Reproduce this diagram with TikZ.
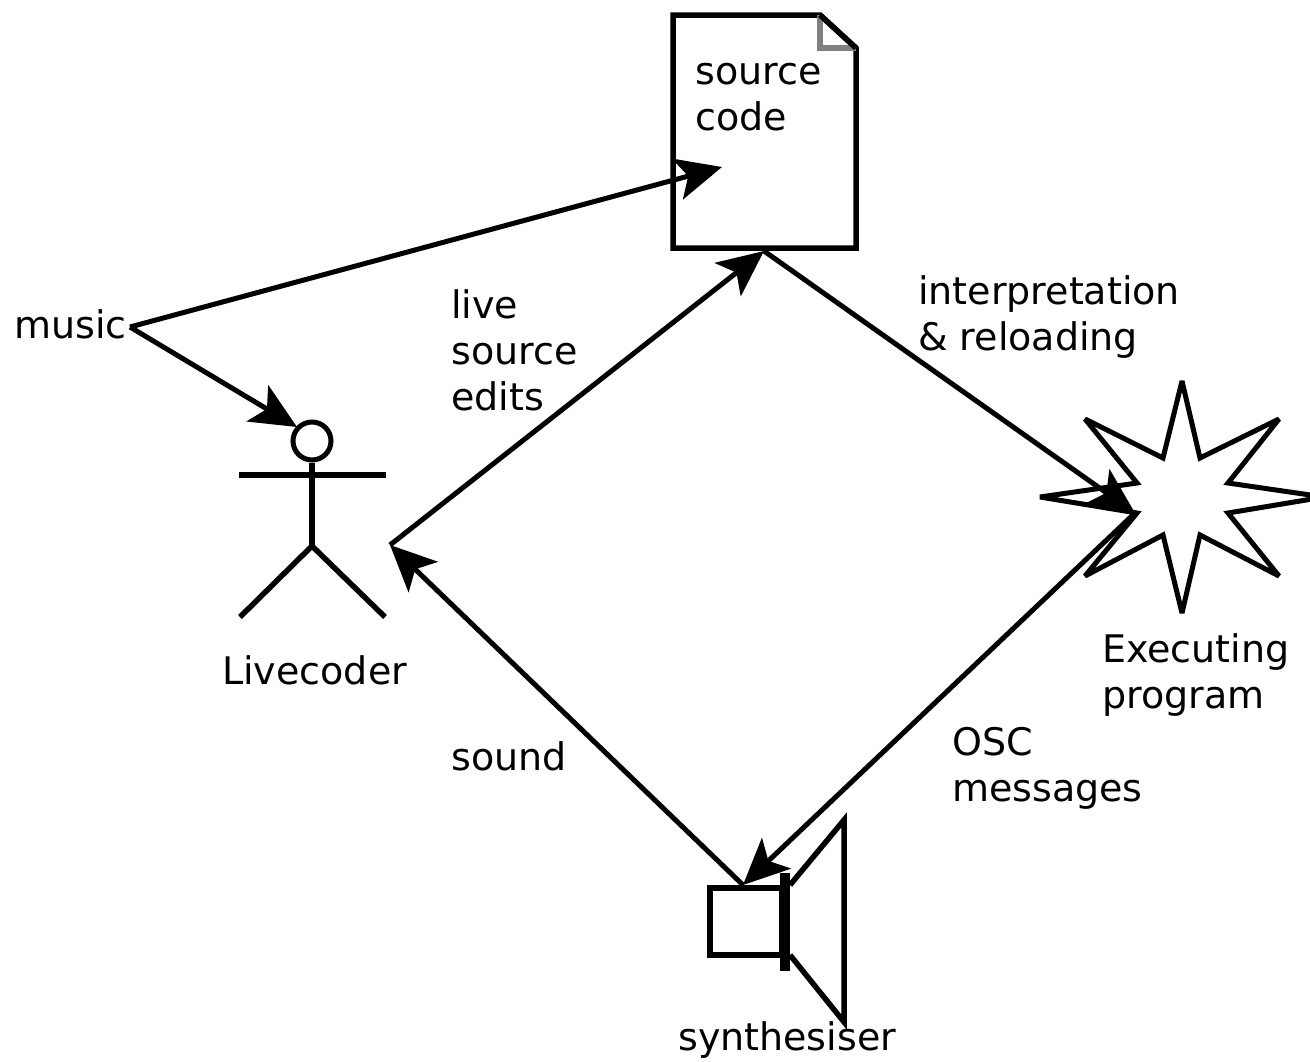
\documentclass[tikz,border=0pt]{standalone}
\usepackage{fontspec}
\setmainfont{DejaVu Sans}
\usetikzlibrary{arrows.meta}
\tikzstyle{caption} = [inner sep=0pt, anchor=north west, align=left, font=\fontsize{38}{46}\selectfont]
\tikzstyle{outline} = [line width=5.5pt, draw=black]
\tikzstyle{arrow} = [line width=5pt,-{Stealth[length=46pt,width=42pt,inset=11pt]}]

\begin{document}
\begin{tikzpicture}[x=1pt,y=-1pt]
\useasboundingbox (0,0) rectangle (1310,1061);

% source document
\draw [outline] (673,15) -- (820,15) -- (856,48) -- (856,248) -- (673,248) -- cycle;
\draw [outline, draw=black!50] (820,15) -- (820,48) -- (856,48);
\draw [outline] (820,15) -- (856,48);
\node (sourcecode) [caption] at (695,63) {source\\code};

% livecoder
\node (head) [outline, circle, line width=5pt, minimum size=38pt, inner sep=0pt] at (312,441) {};
\coordinate (hip) at (312,546);
\coordinate (handleft) at (239,475);
\coordinate (handright) at (386,475);
\coordinate (footleft) at (240,617);
\coordinate (footright) at (385,617);
\draw [outline] (head) -- (hip);
\draw [outline] (handleft) -- (handright);
\draw [outline] (footleft) -- (hip) -- (footright);
\node (livecoder) [caption] at (222,655) {Livecoder};

% executing program
\draw [outline, line width=5pt, miter limit=4] (1182,381) -- (1200,458) -- (1279,419) -- (1228,483) -- (1324,497) -- (1228,513) -- (1279,576) -- (1200,535) -- (1182,613) -- (1163,535) -- (1085,576) -- (1137,513) -- (1040,497) -- (1137,483) -- (1085,419) -- (1163,458) -- cycle;
\node (program) [caption] at (1102,633) {Executing\\program};

% synthesiser
\draw [outline] (790,885) -- (844,820) -- (844,1022) -- (790,955);
\draw [outline, fill=white] (710,888) rectangle (782,955);
\draw [outline, line width=10pt] (785,873) -- (785,971);
\node (synthesiser) [caption] at (678,1021) {synthesiser};

\node (music) [caption] at (14,309) {music};
\node (edits) [caption] at (451,289) {live\\source\\edits};
\node (interp) [caption] at (918,275) {interpretation\\\& reloading};
\node (sound) [caption] at (451,741) {sound};
\node (osc) [caption] at (952,727) {OSC\\messages};

\coordinate (musicout) at (130,327);
\coordinate (sourcein) at (722,167);
\coordinate (headin) at (297,427);
\coordinate (coderear) at (390,545);
\coordinate (sourcebottom) at (764,251);
\coordinate (programin) at (1135,513);
\coordinate (synthtop) at (743,885);

\draw [arrow] (musicout) -- (sourcein);
\draw [arrow] (musicout) -- (headin);
\draw [arrow] (coderear) -- (sourcebottom);
\draw [arrow] (sourcebottom) -- (programin);
\draw [arrow] (programin) -- (synthtop);
\draw [arrow] (synthtop) -- (coderear);

\end{tikzpicture}
\end{document}
